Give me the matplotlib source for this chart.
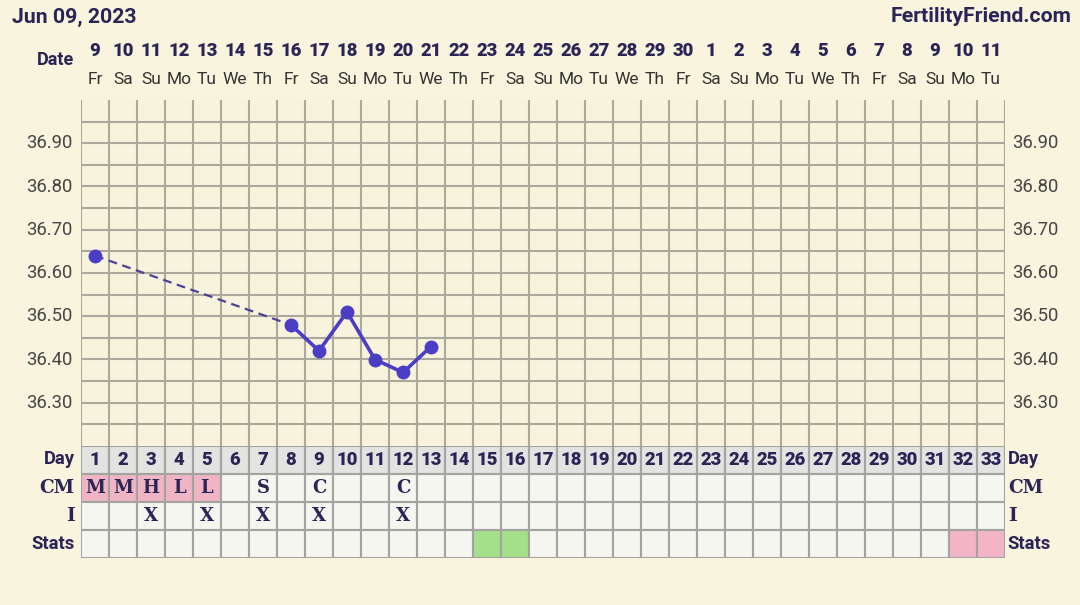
import matplotlib
matplotlib.use("Agg")
from matplotlib import pyplot as plt
from matplotlib.patches import Rectangle
from matplotlib.transforms import blended_transform_factory

# chart data
date_nums = ['9', '10', '11', '12', '13', '14', '15', '16', '17', '18', '19', '20', '21',
             '22', '23', '24', '25', '26', '27', '28', '29', '30', '1', '2', '3', '4',
             '5', '6', '7', '8', '9', '10', '11']
weekdays = ['Fr', 'Sa', 'Su', 'Mo', 'Tu', 'We', 'Th'] * 4 + ['Fr', 'Sa', 'Su', 'Mo', 'Tu']
cycle_days = list(range(1, 34))
temp_days = [1, 8, 9, 10, 11, 12, 13]
temps = [36.64, 36.48, 36.42, 36.51, 36.40, 36.37, 36.43]
y_ticks = [36.30, 36.40, 36.50, 36.60, 36.70, 36.80, 36.90]
cm_days = [1, 2, 3, 4, 5, 7, 9, 12]
cm_vals = ['M', 'M', 'H', 'L', 'L', 'S', 'C', 'C']
cm_pink = [1, 2, 3, 4, 5]
i_days = [3, 5, 7, 9, 12]
stats_green = [15, 16]
stats_pink = [32, 33]

W, H = 1080, 605
bg = '#f8f4de'
navy = '#2b2557'
gridc = '#aba99b'
cellbg = '#f6f6f1'
edge = '#a3a3a0'

fig = plt.figure(figsize=(W / 100, H / 100), dpi=100, facecolor=bg)

def px_axes(x0, y0, x1, y1):
    return fig.add_axes([x0 / W, 1 - y1 / H, (x1 - x0) / W, (y1 - y0) / H])

ax = px_axes(81, 100, 1005, 446)
ax.set_facecolor('#f7f3dc')
ax.set_xlim(0.5, 33.5)
ax.set_ylim(36.20, 37.00)
for x in range(34):
    ax.axvline(x + 0.5, color=gridc, lw=1.5, zorder=1)
for k in range(1, 16):
    ax.axhline(36.20 + 0.05 * k, color=gridc, lw=1.5, zorder=1)
for s in ax.spines.values():
    s.set_visible(False)
ax.set_xticks([])
ax.set_yticks([])

for t in y_ticks:
    ax.text(-0.009, t, '%.2f' % t, transform=blended_transform_factory(ax.transAxes, ax.transData),
            ha='right', va='center', fontsize=13.3, color='#454545', family='Roboto')
    ax.text(1.008, t, '%.2f' % t, transform=blended_transform_factory(ax.transAxes, ax.transData),
            ha='left', va='center', fontsize=13.3, color='#454545', family='Roboto')

# temperature line: dashed gap then solid
line_c = '#4a3fc4'
ax.plot(temp_days[:2], temps[:2], ls=(0, (4, 2.5)), lw=1.6, color='#4b4399', zorder=3)
ax.plot(temp_days[1:], temps[1:], lw=2.6, color=line_c, zorder=3)
ax.plot(temp_days, temps, 'o', ms=9, color=line_c, zorder=4)

# header
tr = blended_transform_factory(ax.transData, fig.transFigure)
for d, n, w in zip(cycle_days, date_nums, weekdays):
    ax.text(d, 1 - 51 / H, n, transform=tr, ha='center', va='center', fontsize=13.3,
            fontweight='heavy', color=navy, family='Roboto')
    ax.text(d, 1 - 79 / H, w, transform=tr, ha='center', va='center', fontsize=12.5,
            color='#333333', family='Roboto')
fig.text(56 / W, 1 - 60 / H, 'Date', ha='center', va='center', fontsize=13,
         fontweight='bold', color=navy, family='Roboto')
fig.text(12 / W, 1 - 17 / H, 'Jun 09, 2023', ha='left', va='center', fontsize=15.3,
         fontweight='bold', color=navy, family='Roboto')
fig.text(1072 / W, 1 - 17 / H, 'FertilityFriend.com', ha='right', va='center', fontsize=15.3,
         fontweight='bold', color=navy, family='Roboto')

# table below
tb = px_axes(81, 446, 1005, 558)
tb.set_xlim(0.5, 33.5)
tb.set_ylim(0, 4)
tb.axis('off')
for d in cycle_days:
    tb.add_patch(Rectangle((d - 0.5, 3), 1, 1, fc='#e3e3e1', ec=edge, lw=1.5))
    tb.text(d, 3.5, str(d), ha='center', va='center', fontsize=13.3, fontweight='heavy',
            color=navy, family='Roboto')
    tb.add_patch(Rectangle((d - 0.5, 2), 1, 1, fc='#f0b5c5' if d in cm_pink else cellbg, ec=edge, lw=1.5))
    tb.add_patch(Rectangle((d - 0.5, 1), 1, 1, fc=cellbg, ec=edge, lw=1.5))
    if d in stats_green:
        c = '#a6df8a'
    elif d in stats_pink:
        c = '#f2b4c6'
    else:
        c = cellbg
    tb.add_patch(Rectangle((d - 0.5, 0), 1, 1, fc=c, ec=edge, lw=1.5))
for d, v in zip(cm_days, cm_vals):
    tb.text(d, 2.5, v, ha='center', va='center', fontsize=13, fontweight='bold',
            color=navy, family='DejaVu Serif')
for d in i_days:
    tb.text(d, 1.5, 'X', ha='center', va='center', fontsize=13, fontweight='bold',
            color=navy, family='DejaVu Serif')

labels = [('Day', 3.55, 'Roboto'), ('CM', 2.5, 'DejaVu Serif'), ('I', 1.5, 'DejaVu Serif'),
          ('Stats', 0.5, 'Roboto')]
for lab, yy, fam in labels:
    tb.text(-0.007, yy, lab, transform=blended_transform_factory(tb.transAxes, tb.transData),
            ha='right', va='center', fontsize=13.3, fontweight='bold', color=navy, family=fam)
    tb.text(1.003, yy, lab, transform=blended_transform_factory(tb.transAxes, tb.transData),
            ha='left', va='center', fontsize=13.3, fontweight='bold', color=navy, family=fam)

fig.savefig('out.png', dpi=100, facecolor=bg)
